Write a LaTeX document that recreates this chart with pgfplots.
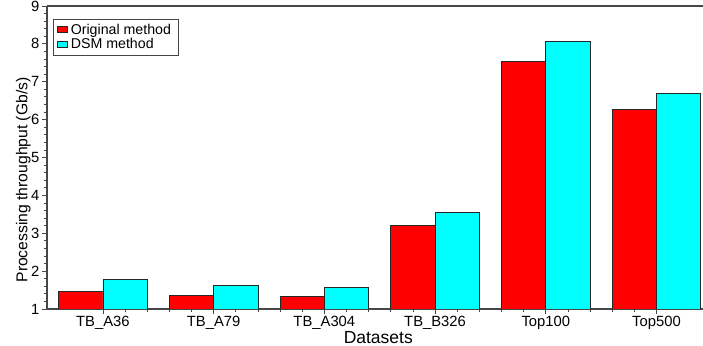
\documentclass[border=0pt]{standalone}
\usepackage{fontspec}
\setmainfont{Liberation Sans}
\usepackage{pgfplots}
\pgfplotsset{compat=1.18}
\definecolor{barred}{RGB}{255,0,0}
\definecolor{barcyan}{RGB}{0,255,255}
\definecolor{axgray}{RGB}{70,70,70}
\begin{document}
\begin{tikzpicture}
\begin{axis}[
  scale only axis,
  width=656pt, height=303pt,
  ybar=0pt, bar width=0.4,
  xmin=-0.505, xmax=5.42,
  ymin=1, ymax=9,
  xtick={0,1,2,3,4,5},
  xticklabels={TB\_A36,TB\_A79,TB\_A304,TB\_B326,Top100,Top500},
  ytick={1,2,3,4,5,6,7,8,9},
  minor x tick num=4,
  minor y tick num=4,
  axis x line=box, axis y line=left,
  axis line style={-, line width=1.2pt, draw=axgray},
  xtick pos=lower, ytick pos=left,
  tick align=outside,
  major tick length=5pt, minor tick length=3pt,
  every tick/.style={axgray, line width=0.8pt},
  tick label style={font=\fontsize{14.8}{16}\selectfont},
  /pgf/number format/assume math mode=true,
  xticklabel style={yshift=1pt},
  yticklabel style={xshift=1pt},
  ylabel={Processing throughput (Gb/s)},
  ylabel style={font=\fontsize{15.7}{17}\selectfont, at={(axis description cs:-0.036,0.426)}, anchor=center},
  xlabel={Datasets},
  xlabel style={font=\fontsize{17.5}{19}\selectfont, at={(axis description cs:0.505,-0.094)}, anchor=center},
  legend style={at={(axis description cs:0.009,0.957)}, anchor=north west,
    draw=axgray, line width=0.6pt, font=\fontsize{14.2}{15}\selectfont,
    inner xsep=4pt, inner ysep=2.5pt, row sep=-1pt,
    legend cell align=left},
  legend image code/.code={\draw[#1, line width=0.6pt] (0pt,-3pt) rectangle (10pt,3pt);},
  legend style={nodes={inner xsep=3pt}},
]
\addplot[fill=barred, draw=black!85, line width=0.8pt] coordinates {(0,1.47) (1,1.35) (2,1.32) (3,3.21) (4,7.53) (5,6.27)};
\addplot[fill=barcyan, draw=black!85, line width=0.8pt] coordinates {(0,1.78) (1,1.62) (2,1.57) (3,3.54) (4,8.07) (5,6.68)};
\legend{Original method, DSM method}
\end{axis}
\pgfresetboundingbox
\path (current axis.south west) ++(-47pt,-37pt) coordinate (bbA);
\path (current axis.north east) ++(0pt,6pt) coordinate (bbB);
\useasboundingbox (bbA) rectangle (bbB);
\end{tikzpicture}
\end{document}
